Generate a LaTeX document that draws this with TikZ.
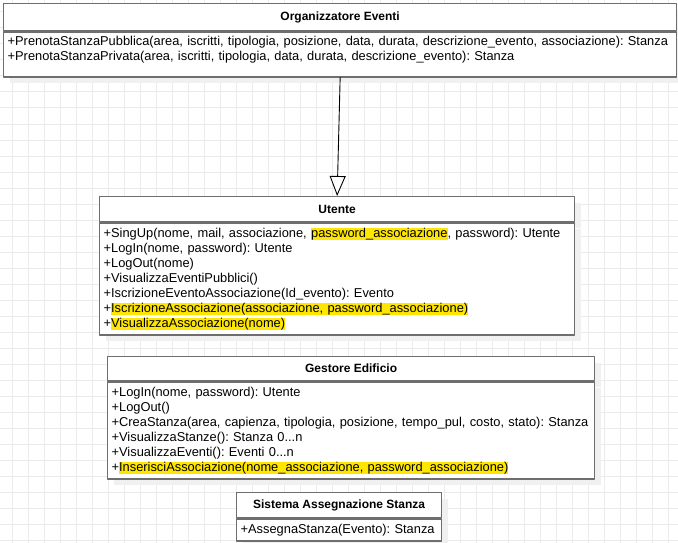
\documentclass[tikz,border=0pt]{standalone}
\usepackage{fontspec}
\setmainfont{Liberation Sans}
\usetikzlibrary{arrows.meta, shadows, positioning}

\definecolor{boxgray}{HTML}{6E6E6E}
\definecolor{gridgray}{HTML}{EBEBEB}
\definecolor{shadowgray}{HTML}{F0F0F0}
\definecolor{hlyellow}{HTML}{FFE600}

% yellow marker behind changed operations
\newcommand{\hlt}[1]{{\setlength{\fboxsep}{0pt}\colorbox{hlyellow}{\vphantom{(}#1}}}

\begin{document}
\frenchspacing
\begin{tikzpicture}[x=1pt, y=-1pt, line cap=round, line join=round,
	classtitle/.style={draw=boxgray, line width=1.3pt, fill=white, inner sep=0pt,
		font=\bfseries\fontsize{12}{15}\selectfont,
		drop shadow={shadow xshift=6pt, shadow yshift=-6pt, fill=shadowgray, opacity=1}},
	classbody/.style={draw=boxgray, line width=1.3pt, fill=white, anchor=north,
		inner xsep=4pt, inner ysep=0pt, align=left,
		font=\fontsize{12.85}{15}\selectfont,
		drop shadow={shadow xshift=6pt, shadow yshift=-6pt, fill=shadowgray, opacity=1}},
	inherit/.style={-{Triangle[width=16pt, length=20pt, fill=white]}, line width=0.9pt, black}]
	% Define window bounds
	\def\xmax{678} \def\ymax{543}
	\useasboundingbox (0,0) rectangle (\xmax,\ymax);
	\fill[white] (0,0) rectangle (\xmax,\ymax);
	
	% Background grid, 16px
	\foreach \gx in {12,28,...,668}
		\draw[gridgray, line width=1pt] (\gx,0) -- (\gx,\ymax);
	\foreach \gy in {12,28,...,540}
		\draw[gridgray, line width=1pt] (0,\gy) -- (\xmax,\gy);
	
	% Organizzatore Eventi
	\node[classtitle, anchor=north west, minimum width=673, minimum height=27] (org) at (3,3) {Organizzatore Eventi};
	\node[classbody, minimum width=673, minimum height=45, text width=665] (org-ops) at (org.south) {%
		+PrenotaStanzaPubblica(area, iscritti, tipologia, posizione, data, durata, descrizione\_evento, associazione): Stanza\\
		+PrenotaStanzaPrivata(area, iscritti, tipologia, data, durata, descrizione\_evento): Stanza\par\vspace{10pt}\hrule height 0pt};
	
	% Utente
	\node[classtitle, anchor=north west, minimum width=475, minimum height=25] (ute) at (99,196) {Utente};
	\node[classbody, minimum width=475, minimum height=112, text width=467] (ute-ops) at (ute.south) {%
		+SingUp(nome, mail, associazione, \hlt{password\_associazione}, password): Utente\\
		+LogIn(nome, password): Utente\\
		+LogOut(nome)\\
		+VisualizzaEventiPubblici()\\
		+IscrizioneEventoAssociazione(Id\_evento): Evento\\
		+\hlt{IscrizioneAssociazione(associazione, password\_associazione)}\\
		+\hlt{VisualizzaAssociazione(nome)}};
	
	% Gestore Edificio
	\node[classtitle, anchor=north west, minimum width=487, minimum height=24] (ges) at (107,356) {Gestore Edificio};
	\node[classbody, minimum width=487, minimum height=97, text width=479] (ges-ops) at (ges.south) {%
		+LogIn(nome, password): Utente\\
		+LogOut()\\
		+CreaStanza(area, capienza, tipologia, posizione, tempo\_pul, costo, stato): Stanza\\
		+VisualizzaStanze(): Stanza 0...n\\
		+VisualizzaEventi(): Eventi 0...n\\
		+\hlt{InserisciAssociazione(nome\_associazione, password\_associazione)}};
	
	% Sistema Assegnazione Stanza
	\node[classtitle, anchor=north west, minimum width=205, minimum height=25] (sis) at (236,492) {Sistema Assegnazione Stanza};
	\node[classbody, minimum width=205, minimum height=22, text width=197] (sis-ops) at (sis.south) {%
		+AssegnaStanza(Evento): Stanza};
	
	% Generalization
	\draw[inherit] (org-ops.south) -- (ute.north);
\end{tikzpicture}
\end{document}
